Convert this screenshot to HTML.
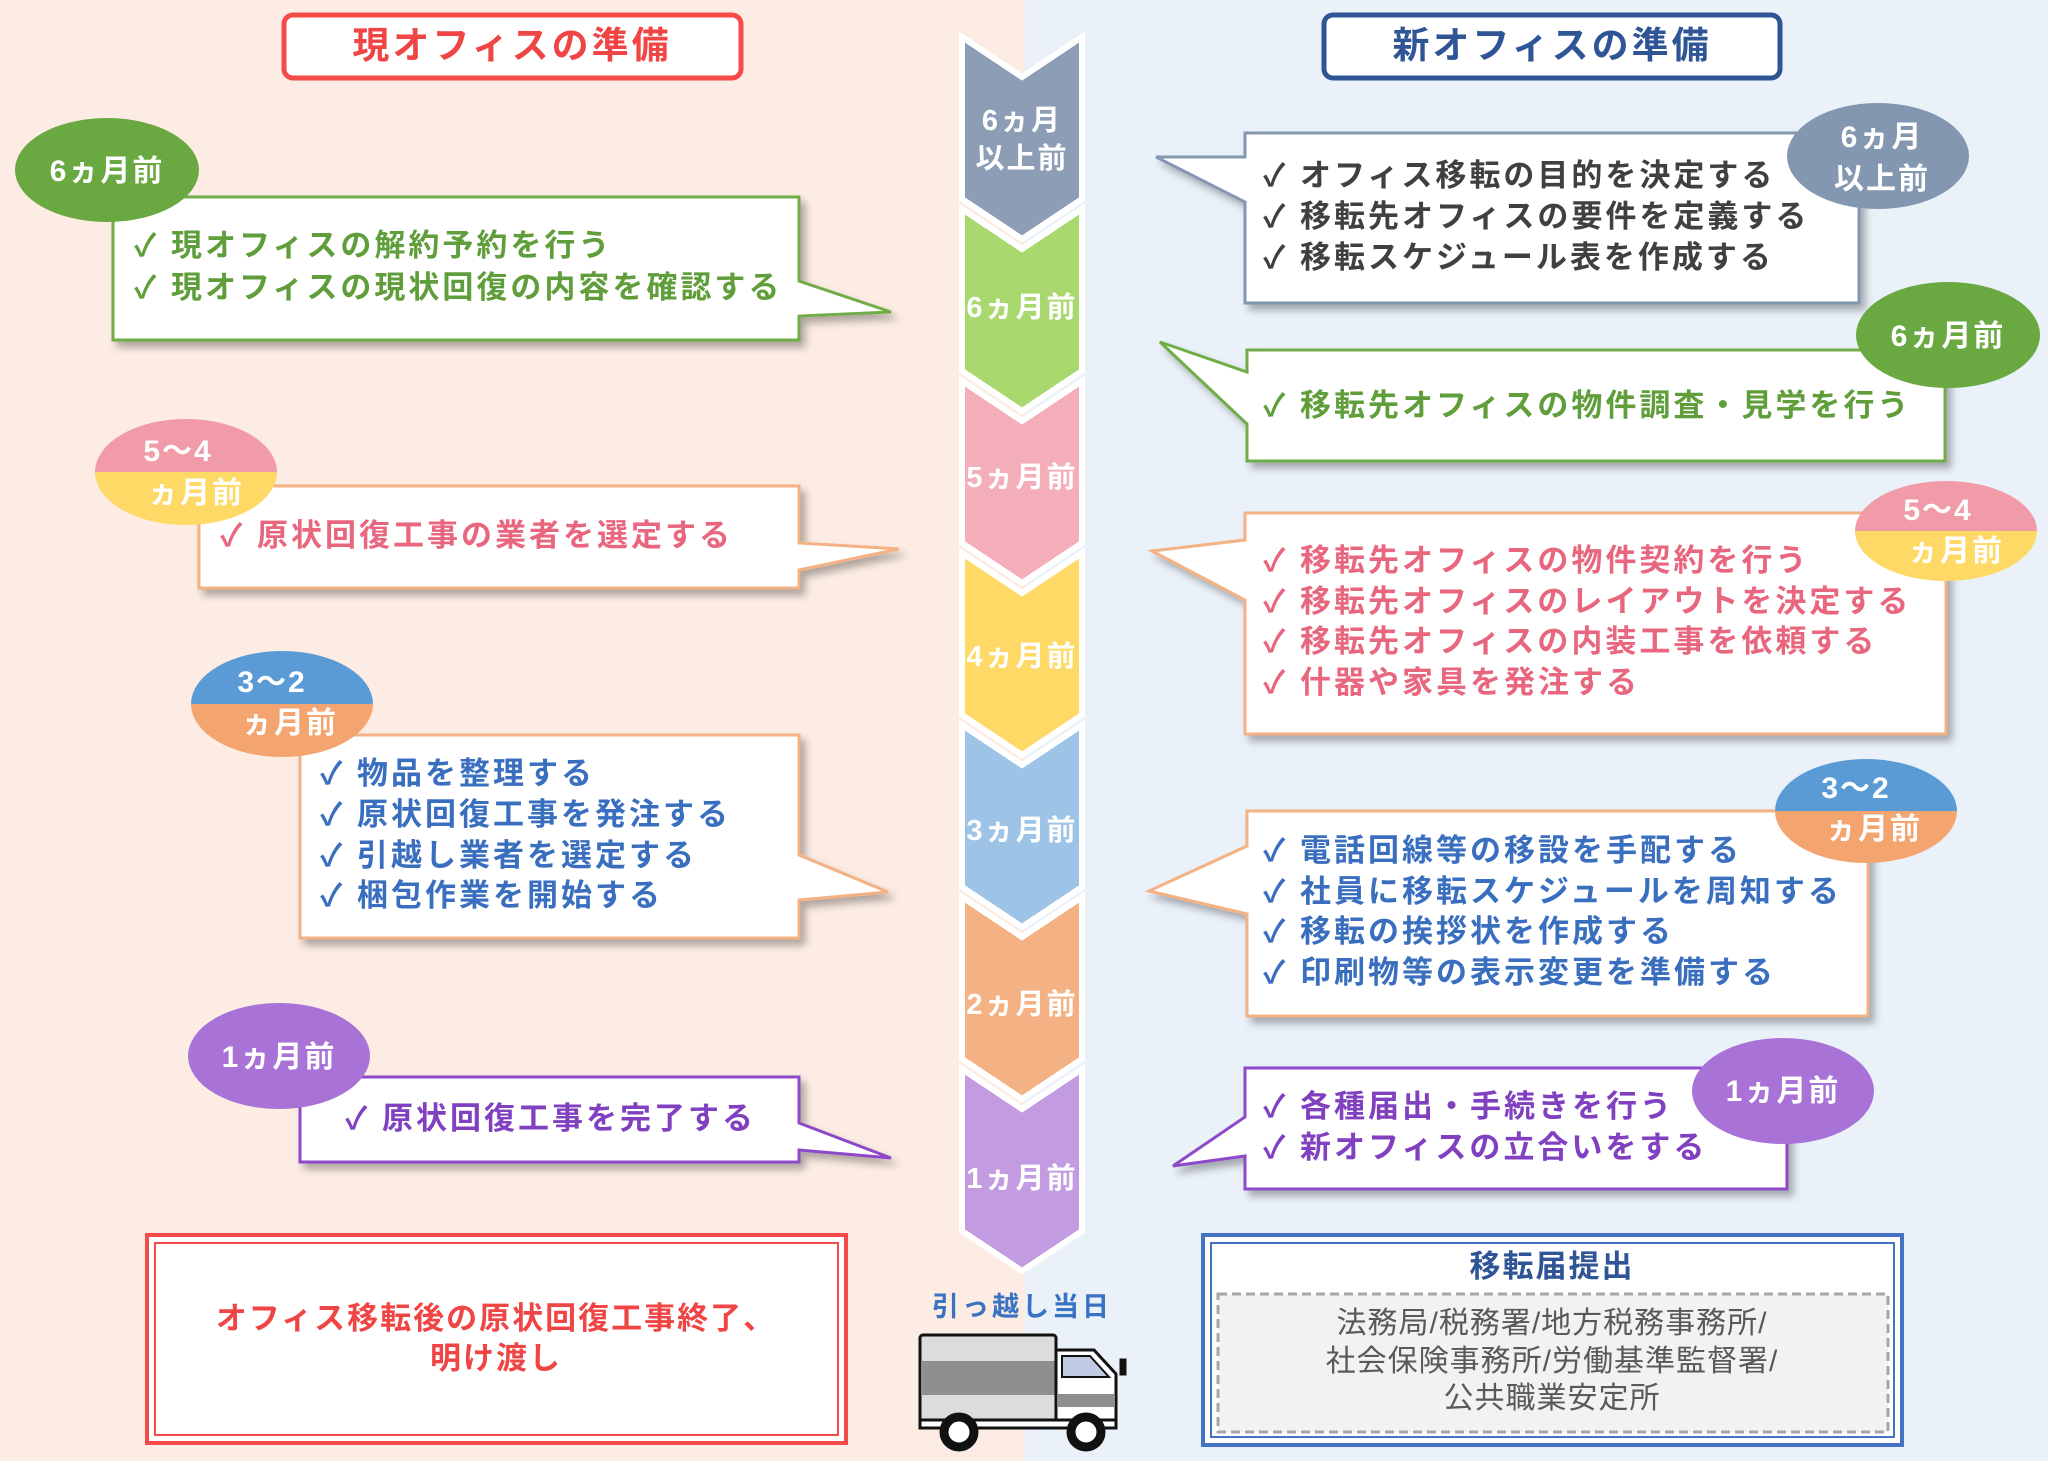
<!DOCTYPE html>
<html><head><meta charset="utf-8"><style>
html,body{margin:0;padding:0}
body{width:2048px;height:1461px;overflow:hidden}
svg text{font-family:"Liberation Sans","Noto Sans CJK JP",sans-serif}
</style></head><body>
<svg width="2048" height="1461" viewBox="0 0 2048 1461" xmlns="http://www.w3.org/2000/svg">
<defs>
<filter id="sh" x="-5%" y="-5%" width="115%" height="125%"><feDropShadow dx="5" dy="6" stdDeviation="4" flood-color="#000" flood-opacity="0.3"/></filter>
</defs>
<rect x="0" y="0" width="1025" height="1461" fill="#fcece3"/>
<rect x="1025" y="0" width="1023" height="1461" fill="#eaf1f9"/>

<rect x="284" y="15" width="457" height="63" rx="9" fill="#fff" stroke="#f54a4a" stroke-width="5"/>
<text x="512" y="58" font-size="37" font-weight="bold" fill="#f04545" text-anchor="middle" letter-spacing="3">現オフィスの準備</text>
<rect x="1324" y="15" width="456" height="63" rx="9" fill="#fff" stroke="#2f5597" stroke-width="5"/>
<text x="1552" y="58" font-size="37" font-weight="bold" fill="#2f5597" text-anchor="middle" letter-spacing="3">新オフィスの準備</text>

<g stroke="#fff" stroke-width="6" stroke-linejoin="miter">
<path d="M962 37 L1022 77 L1082 37 V199 L1022 239 L962 199 Z" fill="#8c9db5"/>
<path d="M962 209 L1022 249 L1082 209 V371 L1022 411 L962 371 Z" fill="#a9d86e"/>
<path d="M962 381 L1022 421 L1082 381 V543 L1022 583 L962 543 Z" fill="#f4aeba"/>
<path d="M962 553 L1022 593 L1082 553 V715 L1022 755 L962 715 Z" fill="#fed966"/>
<path d="M962 725 L1022 765 L1082 725 V887 L1022 927 L962 887 Z" fill="#9dc3e6"/>
<path d="M962 897 L1022 937 L1082 897 V1059 L1022 1099 L962 1059 Z" fill="#f4b183"/>
<path d="M962 1069 L1022 1109 L1082 1069 V1231 L1022 1271 L962 1231 Z" fill="#c39be0"/>
</g>
<g fill="#fff" font-weight="bold" font-size="29" text-anchor="middle" letter-spacing="2">
<text x="1022" y="130">6ヵ月</text>
<text x="1022" y="168">以上前</text>
<text x="1022" y="317">6ヵ月前</text>
<text x="1022" y="487">5ヵ月前</text>
<text x="1022" y="666">4ヵ月前</text>
<text x="1022" y="840">3ヵ月前</text>
<text x="1022" y="1014">2ヵ月前</text>
<text x="1022" y="1188">1ヵ月前</text>
</g>

<g stroke-width="3" fill="#fff" filter="url(#sh)">
<path d="M113 197 H799 V281 L891 312 L799 316 V340 H113 Z" stroke="#70ad47"/>
<path d="M199 486 H799 V543 L899 549 L799 570 V588 H199 Z" stroke="#f4b183"/>
<path d="M300 735 H799 V855 L888 892 L799 900 V938 H300 Z" stroke="#f4b183"/>
<path d="M300 1077 H799 V1123 L891 1158 L799 1150 V1162 H300 Z" stroke="#8d49c9"/>
</g>
<g font-size="31" font-weight="bold" letter-spacing="3">
<text x="134" y="256" fill="#5f9e3a">✓ 現オフィスの解約予約を行う</text>
<text x="134" y="298" fill="#5f9e3a">✓ 現オフィスの現状回復の内容を確認する</text>
<text x="220" y="546" fill="#e8677e">✓ 原状回復工事の業者を選定する</text>
<text x="320" y="784" fill="#3a6fc0">✓ 物品を整理する</text>
<text x="320" y="825" fill="#3a6fc0">✓ 原状回復工事を発注する</text>
<text x="320" y="866" fill="#3a6fc0">✓ 引越し業者を選定する</text>
<text x="320" y="906" fill="#3a6fc0">✓ 梱包作業を開始する</text>
<text x="345" y="1129" fill="#8040c0">✓ 原状回復工事を完了する</text>
</g>

<g stroke-width="3" fill="#fff" filter="url(#sh)">
<path d="M1245 133 H1859 V303 H1245 V202 L1156 157 L1245 157 Z" stroke="#8497b0"/>
<path d="M1247 350 H1945 V461 H1247 V424 L1160 342 L1247 372 Z" stroke="#70ad47"/>
<path d="M1245 513 H1946 V734 H1245 V600 L1152 551 L1245 540 Z" stroke="#f4b183"/>
<path d="M1247 811 H1868 V1016 H1247 V914 L1149 891 L1247 846 Z" stroke="#f4b183"/>
<path d="M1245 1068 H1787 V1189 H1245 V1156 L1173 1166 L1245 1117 Z" stroke="#8d49c9"/>
</g>
<g font-size="31" font-weight="bold" letter-spacing="3">
<text x="1263" y="186" fill="#404040">✓ オフィス移転の目的を決定する</text>
<text x="1263" y="227" fill="#404040">✓ 移転先オフィスの要件を定義する</text>
<text x="1263" y="268" fill="#404040">✓ 移転スケジュール表を作成する</text>
<text x="1263" y="416" fill="#5f9e3a">✓ 移転先オフィスの物件調査・見学を行う</text>
<text x="1263" y="571" fill="#e8677e">✓ 移転先オフィスの物件契約を行う</text>
<text x="1263" y="612" fill="#e8677e">✓ 移転先オフィスのレイアウトを決定する</text>
<text x="1263" y="652" fill="#e8677e">✓ 移転先オフィスの内装工事を依頼する</text>
<text x="1263" y="693" fill="#e8677e">✓ 什器や家具を発注する</text>
<text x="1263" y="861" fill="#3a6fc0">✓ 電話回線等の移設を手配する</text>
<text x="1263" y="902" fill="#3a6fc0">✓ 社員に移転スケジュールを周知する</text>
<text x="1263" y="942" fill="#3a6fc0">✓ 移転の挨拶状を作成する</text>
<text x="1263" y="983" fill="#3a6fc0">✓ 印刷物等の表示変更を準備する</text>
<text x="1263" y="1117" fill="#8040c0">✓ 各種届出・手続きを行う</text>
<text x="1263" y="1158" fill="#8040c0">✓ 新オフィスの立合いをする</text>
</g>

<defs>
<clipPath id="c1"><ellipse cx="186" cy="472" rx="91" ry="53"/></clipPath>
<clipPath id="c2"><ellipse cx="282" cy="704" rx="91" ry="53"/></clipPath>
<clipPath id="c3"><ellipse cx="1946" cy="531" rx="91" ry="50"/></clipPath>
<clipPath id="c4"><ellipse cx="1866" cy="811" rx="91" ry="52"/></clipPath>
</defs>
<ellipse cx="107" cy="170" rx="92" ry="52" fill="#6aa842"/>
<g clip-path="url(#c1)"><rect x="90" y="415" width="200" height="57" fill="#f19aa8"/><rect x="90" y="472" width="200" height="60" fill="#fed966"/></g>
<g clip-path="url(#c2)"><rect x="185" y="648" width="200" height="56" fill="#5b9bd5"/><rect x="185" y="704" width="200" height="60" fill="#f4a56f"/></g>
<ellipse cx="279" cy="1056" rx="91" ry="53" fill="#a872d6"/>
<ellipse cx="1878" cy="156" rx="91" ry="53" fill="#8497b0"/>
<ellipse cx="1948" cy="335" rx="92" ry="53" fill="#6aa842"/>
<g clip-path="url(#c3)"><rect x="1850" y="478" width="200" height="53" fill="#f19aa8"/><rect x="1850" y="531" width="200" height="55" fill="#fed966"/></g>
<g clip-path="url(#c4)"><rect x="1770" y="755" width="200" height="56" fill="#5b9bd5"/><rect x="1770" y="811" width="200" height="60" fill="#f4a56f"/></g>
<ellipse cx="1783" cy="1091" rx="91" ry="53" fill="#a872d6"/>
<g fill="#fff" font-weight="bold" font-size="30" text-anchor="middle" letter-spacing="2">
<text x="107" y="181">6ヵ月前</text>
<text x="178" y="461">5〜4</text>
<text x="196" y="503">ヵ月前</text>
<text x="272" y="692">3〜2</text>
<text x="290" y="733">ヵ月前</text>
<text x="279" y="1067">1ヵ月前</text>
<text x="1882" y="147">6ヵ月</text>
<text x="1882" y="189">以上前</text>
<text x="1948" y="346">6ヵ月前</text>
<text x="1938" y="520">5〜4</text>
<text x="1956" y="561">ヵ月前</text>
<text x="1856" y="798">3〜2</text>
<text x="1874" y="839">ヵ月前</text>
<text x="1783" y="1101">1ヵ月前</text>
</g>

<rect x="147" y="1235" width="699" height="208" fill="#fff" stroke="#f54a4a" stroke-width="4"/>
<rect x="155" y="1243" width="683" height="192" fill="none" stroke="#f54a4a" stroke-width="2"/>
<g font-size="31" font-weight="bold" fill="#f04545" text-anchor="middle" letter-spacing="2">
<text x="496" y="1329">オフィス移転後の原状回復工事終了、</text>
<text x="496" y="1369">明け渡し</text>
</g>

<rect x="1203" y="1235" width="699" height="210" fill="#fff" stroke="#4472c4" stroke-width="4"/>
<rect x="1211" y="1243" width="683" height="194" fill="none" stroke="#4472c4" stroke-width="2"/>
<text x="1552" y="1277" font-size="31" font-weight="bold" fill="#2f5597" text-anchor="middle" letter-spacing="2">移転届提出</text>
<rect x="1218" y="1294" width="670" height="138" fill="#f2f2f2" stroke="#a6a6a6" stroke-width="3" stroke-dasharray="9,5"/>
<g font-size="30" fill="#595959" text-anchor="middle" letter-spacing="1">
<text x="1552" y="1333">法務局/税務署/地方税務事務所/</text>
<text x="1552" y="1371">社会保険事務所/労働基準監督署/</text>
<text x="1552" y="1408">公共職業安定所</text>
</g>

<text x="1022" y="1316" font-size="27" font-weight="bold" fill="#3a72c4" text-anchor="middle" letter-spacing="3">引っ越し当日</text>
<g stroke="#111" stroke-width="3">
<rect x="920" y="1335" width="136" height="90" rx="3" fill="#dcdcdc"/>
<rect x="921" y="1361" width="134" height="34" fill="#8f8f8f" stroke="none"/>
<path d="M1056 1350 H1094 L1116 1374 V1427 H1056 Z" fill="#fff"/>
<path d="M1062 1356 H1090 L1109 1377 H1062 Z" fill="#c0cbe3" stroke-width="2"/>
<rect x="1057" y="1394" width="58" height="13" fill="#8f8f8f" stroke="none"/>
<rect x="920" y="1420" width="196" height="8" fill="#fff"/>
<rect x="1121" y="1360" width="4" height="14" fill="#111"/>
<circle cx="959" cy="1432" r="15" fill="#fff" stroke-width="9"/>
<circle cx="1086" cy="1432" r="15" fill="#fff" stroke-width="9"/>
</g>
</svg>
</body></html>
